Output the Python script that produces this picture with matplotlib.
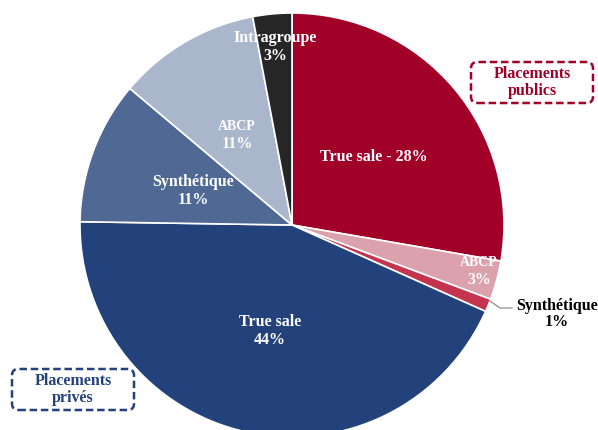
import matplotlib.pyplot as plt
from matplotlib.patches import FancyBboxPatch

# segments, clockwise from 12 o'clock
names = ["True sale", "ABCP", "Synthétique", "True sale", "Synthétique", "ABCP", "Intragroupe"]
values = [28, 3, 1, 44, 11, 11, 3]
colors = ["#A10028", "#DBA2AE", "#C3344F", "#23427B", "#4F6894", "#A9B6CC", "#262626"]

plt.rcParams['font.family'] = ['Liberation Serif', 'DejaVu Serif']

fig = plt.figure(figsize=(5.98, 4.30), dpi=100)
ax = fig.add_axes([0, 0, 1, 1])
R = 212.0
cx, cy = 292.0, 225.0

wedges, _ = ax.pie(values, colors=colors, startangle=90, counterclock=False,
                   radius=1, wedgeprops=dict(edgecolor="white", linewidth=1.2))

ax.set_xlim(-cx / R, (598 - cx) / R)
ax.set_ylim(-(430 - cy) / R, cy / R)
ax.set_aspect("equal")
ax.axis("off")


def px(x, y):
    return (x - cx) / R, (cy - y) / R


def label(x, y, name, val, color="white", name_size=11.5):
    ax.text(*px(x, y - 8.5), name, ha="center", va="center", color=color,
            fontsize=name_size, fontweight="bold")
    ax.text(*px(x, y + 8.5), f"{val}%", ha="center", va="center", color=color,
            fontsize=11.5, fontweight="bold")


ax.text(*px(374, 157), f"{names[0]} - {values[0]}%", ha="center", va="center",
        color="white", fontsize=11.5, fontweight="bold")
label(479, 271, names[1], values[1], name_size=10)
label(270, 331, names[3], values[3])
label(193, 191, names[4], values[4])
label(237, 135, names[5], values[5], name_size=10)
label(275, 47, names[6], values[6])

# small slice gets an outside label with a leader line
ax.plot(*zip(px(490, 301), px(500, 308), px(512, 308)), color="#999999", lw=1)
label(557, 314, names[2], values[2], color="black")

# dashed group boxes
for (x0, y0, x1, y1), txt, col in [((471, 62, 593, 103), "Placements\npublics", "#A10028"),
                                  ((12, 369, 134, 410), "Placements\nprivés", "#23427B")]:
    bx, by = px(x0, y1)
    bw, bh = (x1 - x0) / R, (y1 - y0) / R
    ax.add_patch(FancyBboxPatch((bx, by), bw, bh, boxstyle="round,pad=0,rounding_size=0.03",
                                fill=False, edgecolor=col, lw=1.8, linestyle=(0, (3, 1.5))))
    ax.text(bx + bw / 2, by + bh / 2, txt, ha="center", va="center", color=col,
            fontsize=11.5, fontweight="bold", linespacing=1.1)

fig.savefig("out.png", dpi=100)
